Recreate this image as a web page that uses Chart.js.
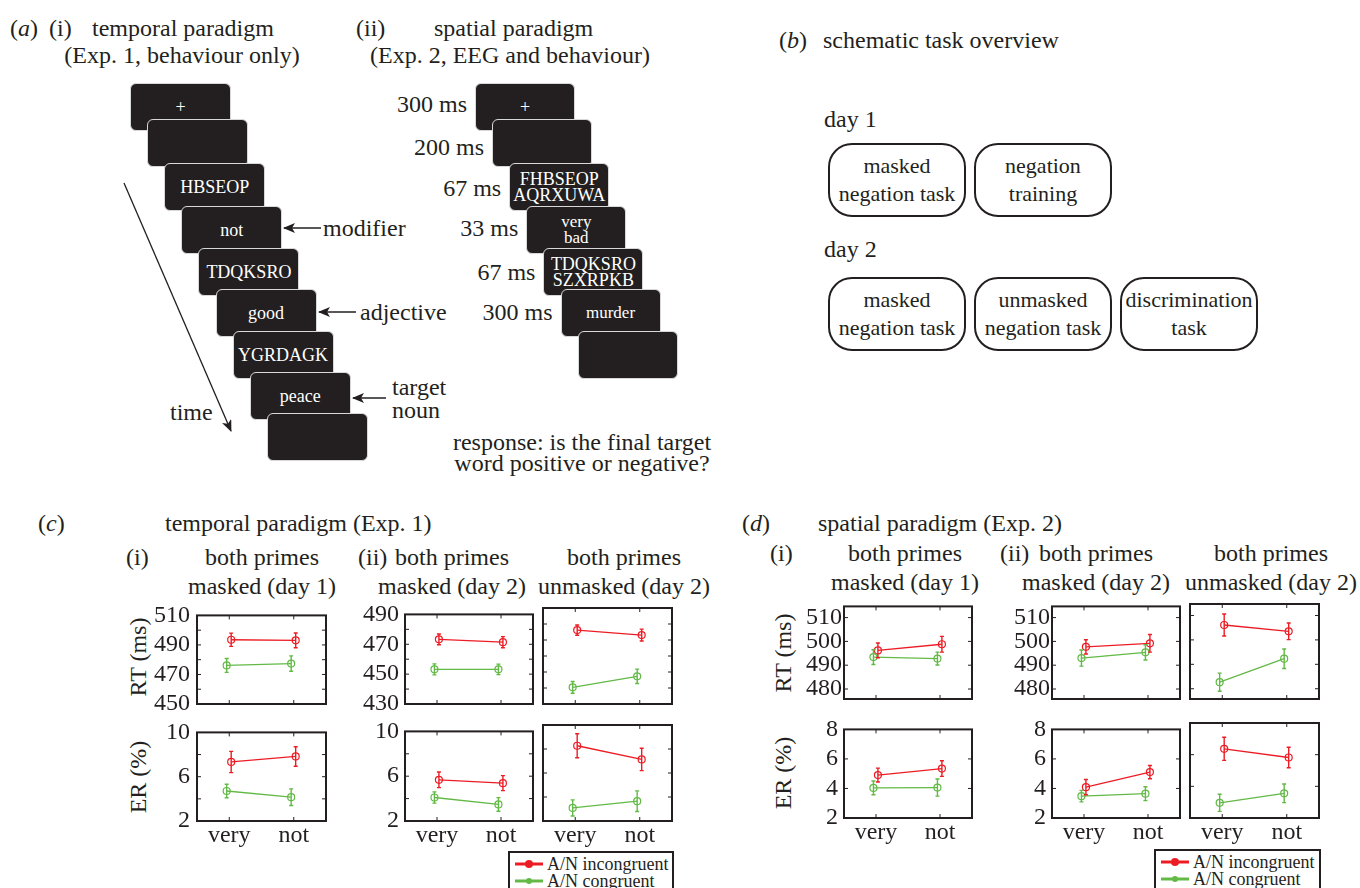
<!DOCTYPE html>
<html>
<head>
<meta charset="utf-8">
<title>negation priming</title>
<script src="https://cdn.jsdelivr.net/npm/chart.js@4.4.0/dist/chart.umd.min.js"></script>
<style>
html, body { margin: 0; padding: 0; background: #fff; }
#fig { position: relative; width: 1360px; height: 888px; overflow: hidden;
       font-family: 'Liberation Serif', 'Times New Roman', serif; color: #231f20; }
.t { position: absolute; white-space: nowrap; font-size: 24px; line-height: 1; }
.frame { position: absolute; background: #231f20; border: 1px solid #d8d8d8; border-radius: 6px;
         color: #fff; display: flex; align-items: center; justify-content: center; text-align: center;
         box-sizing: border-box; font-size: 18px; }
.task { position: absolute; border: 2.5px solid #231f20; border-radius: 24px; box-sizing: border-box;
        display: flex; align-items: center; justify-content: center; text-align: center;
        font-size: 22px; line-height: 28px; background: #fff; white-space: nowrap; }
.legend { position: absolute; border: 2px solid #231f20; background: #fff; box-sizing: border-box; }
canvas { position: absolute; }
</style>
</head>
<body>
<div id="fig"></div>
<script>
/* ---------------------------------------------------------------------------
                                   DATA
--------------------------------------------------------------------------- */
const conditions = ['very', 'not'];

// tick labels
const e1RtDay1Ticks = [450, 470, 490, 510];
const e1RtDay2Ticks = [430, 450, 470, 490];
const e1ErTicks = [2, 6, 10];
const e2RtTicks = [480, 490, 500, 510];
const e2ErTicks = [2, 4, 6, 8];

// (c) Exp. 1, temporal paradigm - RT (ms)
const e1RtD1Inc = [493.5, 493.1], e1RtD1IncErr = [4.5, 5.0];
const e1RtD1Con = [476.1, 477.4], e1RtD1ConErr = [4.7, 5.2];
const e1RtD2mInc = [473.3, 471.4], e1RtD2mIncErr = [3.6, 3.7];
const e1RtD2mCon = [453.2, 453.2], e1RtD2mConErr = [3.7, 3.5];
const e1RtD2uInc = [476.2, 473.1], e1RtD2uIncErr = [3.2, 3.7];
const e1RtD2uCon = [440.4, 447.3], e1RtD2uConErr = [3.7, 4.5];
// (c) Exp. 1 - ER (%)
const e1ErD1Inc = [7.33, 7.83], e1ErD1IncErr = [0.96, 0.88];
const e1ErD1Con = [4.71, 4.15], e1ErD1ConErr = [0.61, 0.75];
const e1ErD2mInc = [5.68, 5.38], e1ErD2mIncErr = [0.70, 0.67];
const e1ErD2mCon = [4.10, 3.48], e1ErD2mConErr = [0.50, 0.61];
const e1ErD2uInc = [8.27, 7.13], e1ErD2uIncErr = [1.00, 0.93];
const e1ErD2uCon = [3.09, 3.65], e1ErD2uConErr = [0.67, 0.86];

// (d) Exp. 2, spatial paradigm - RT (ms)
const e2RtD1Inc = [496.2, 498.8], e2RtD1IncErr = [3.1, 3.3];
const e2RtD1Con = [493.4, 492.8], e2RtD1ConErr = [3.1, 2.7];
const e2RtD2mInc = [497.7, 499.2], e2RtD2mIncErr = [3.0, 3.7];
const e2RtD2mCon = [493.0, 495.4], e2RtD2mConErr = [3.4, 3.2];
const e2RtD2uInc = [506.1, 503.5], e2RtD2uIncErr = [4.5, 3.4];
const e2RtD2uCon = [482.7, 492.3], e2RtD2uConErr = [3.7, 4.0];
// (d) Exp. 2 - ER (%)
const e2ErD1Inc = [4.91, 5.35], e2ErD1IncErr = [0.47, 0.53];
const e2ErD1Con = [4.04, 4.06], e2ErD1ConErr = [0.47, 0.58];
const e2ErD2mInc = [4.09, 5.11], e2ErD2mIncErr = [0.52, 0.45];
const e2ErD2mCon = [3.48, 3.65], e2ErD2mConErr = [0.39, 0.47];
const e2ErD2uInc = [6.37, 5.82], e2ErD2uIncErr = [0.73, 0.65];
const e2ErD2uCon = [2.96, 3.56], e2ErD2uConErr = [0.54, 0.59];

// schematic texts
const temporalFrames = ['+', '', 'HBSEOP', 'not', 'TDQKSRO', 'good', 'YGRDAGK', 'peace', ''];
const spatialFrames = ['+', '', 'FHBSEOP<br>AQRXUWA', 'very<br>bad', 'TDQKSRO<br>SZXRPKB', 'murder', ''];
const spatialDurations = ['300 ms', '200 ms', '67 ms', '33 ms', '67 ms', '300 ms'];

/* ---------------------------------------------------------------------------
                                   INIT
--------------------------------------------------------------------------- */
const fig = document.getElementById('fig');
const ink = '#231f20';
const red = '#ed1c24';
const green = '#62b946';

Chart.defaults.font.family = "'Liberation Serif', 'Times New Roman', serif";
Chart.defaults.font.size = 24;
Chart.defaults.color = ink;

function label(x, y, html, opt) {
    opt = opt || {};
    const d = document.createElement('div');
    d.className = 't';
    d.innerHTML = html;
    d.style.left = x + 'px';
    d.style.top = y + 'px';
    const ax = opt.align == 'center' ? '-50%' : (opt.align == 'right' ? '-100%' : '0');
    d.style.transform = 'translate(' + ax + ',-50%)' + (opt.rotate ? ' rotate(-90deg)' : '');
    if (opt.size) d.style.fontSize = opt.size + 'px';
    fig.appendChild(d);
    return d;
}

/* ---------------------------------------------------------------------------
                              (a) SCHEMATIC
--------------------------------------------------------------------------- */
label(10, 28, '(<i>a</i>)');
label(49, 28, '(i)');
label(92, 28, 'temporal paradigm');
label(182, 55, '(Exp. 1, behaviour only)', {align: 'center'});
label(356, 28, '(ii)');
label(434, 28, 'spatial paradigm');
label(510, 55, '(Exp. 2, EEG and behaviour)', {align: 'center'});

const frameTops = [83, 119, 163, 206, 248, 289, 331, 372, 413];
const durationYs = [104, 147, 188, 228, 272, 312];

temporalFrames.forEach(function(txt, i) {
    const d = document.createElement('div');
    d.className = 'frame';
    d.style.left = (130 + 17.1 * i) + 'px';
    d.style.top = frameTops[i] + 'px';
    d.style.width = '101px';
    d.style.height = '48px';
    d.innerHTML = txt;
    fig.appendChild(d);
});

spatialFrames.forEach(function(txt, i) {
    const d = document.createElement('div');
    d.className = 'frame';
    const x = 475 + 17.1 * i;
    d.style.left = x + 'px';
    d.style.top = frameTops[i] + 'px';
    d.style.width = '100px';
    d.style.height = '48px';
    d.style.lineHeight = '16px';
    d.style.fontSize = (i == 3 || i == 5) ? '17px' : '18px';
    d.innerHTML = txt;
    fig.appendChild(d);
    if (i < spatialDurations.length) {
        label(x - 8, durationYs[i], spatialDurations[i], {align: 'right'});
    }
});

label(323, 228, 'modifier');
label(360, 312, 'adjective');
label(392, 387, 'target');
label(392, 410, 'noun');
label(170, 412, 'time');
label(582, 442, 'response: is the final target', {align: 'center'});
label(582, 463, 'word positive or negative?', {align: 'center'});

const svgNS = 'http://www.w3.org/2000/svg';
const svg = document.createElementNS(svgNS, 'svg');
svg.setAttribute('width', 1360);
svg.setAttribute('height', 888);
svg.style.position = 'absolute';
svg.style.left = '0';
svg.style.top = '0';
svg.innerHTML =
    '<defs><marker id="ah" markerWidth="12" markerHeight="10" refX="11" refY="5" orient="auto" markerUnits="userSpaceOnUse">' +
    '<path d="M0,0 L12,5 L0,10 L3,5 z" fill="' + ink + '"/></marker></defs>' +
    '<line x1="124" y1="183" x2="231" y2="431" stroke="' + ink + '" stroke-width="1.3" marker-end="url(#ah)"/>' +
    '<line x1="321" y1="228" x2="284" y2="228" stroke="' + ink + '" stroke-width="1.5" marker-end="url(#ah)"/>' +
    '<line x1="356" y1="312" x2="319" y2="312" stroke="' + ink + '" stroke-width="1.5" marker-end="url(#ah)"/>' +
    '<line x1="386" y1="398" x2="353" y2="398" stroke="' + ink + '" stroke-width="1.5" marker-end="url(#ah)"/>';
fig.appendChild(svg);

/* ---------------------------------------------------------------------------
                              (b) TASK OVERVIEW
--------------------------------------------------------------------------- */
label(779, 40, '(<i>b</i>)');
label(823, 40, 'schematic task overview');
label(824, 119, 'day 1');
label(824, 249, 'day 2');

function task(x, y, html) {
    const d = document.createElement('div');
    d.className = 'task';
    d.style.left = x + 'px';
    d.style.top = y + 'px';
    d.style.width = '138px';
    d.style.height = '74px';
    d.innerHTML = html;
    fig.appendChild(d);
}
task(828, 143, 'masked<br>negation task');
task(974, 143, 'negation<br>training');
task(828, 277, 'masked<br>negation task');
task(974, 277, 'unmasked<br>negation task');
task(1120, 277, 'discrimination<br>task');

/* ---------------------------------------------------------------------------
                              (c) / (d) TITLES
--------------------------------------------------------------------------- */
label(38, 523, '(<i>c</i>)');
label(165, 523, 'temporal paradigm (Exp. 1)');
label(126, 557, '(i)');
label(262, 557, 'both primes', {align: 'center'});
label(262, 586, 'masked (day 1)', {align: 'center'});
label(358, 557, '(ii)');
label(452, 557, 'both primes', {align: 'center'});
label(452, 586, 'masked (day 2)', {align: 'center'});
label(624, 557, 'both primes', {align: 'center'});
label(624, 586, 'unmasked (day 2)', {align: 'center'});
label(138, 657, 'RT (ms)', {align: 'center', rotate: true});
label(138, 777, 'ER (%)', {align: 'center', rotate: true});

label(742, 523, '(<i>d</i>)');
label(818, 523, 'spatial paradigm (Exp. 2)');
label(770, 553, '(i)');
label(905, 553, 'both primes', {align: 'center'});
label(905, 582, 'masked (day 1)', {align: 'center'});
label(1000, 553, '(ii)');
label(1096, 553, 'both primes', {align: 'center'});
label(1096, 582, 'masked (day 2)', {align: 'center'});
label(1271, 553, 'both primes', {align: 'center'});
label(1271, 582, 'unmasked (day 2)', {align: 'center'});
label(783, 653, 'RT (ms)', {align: 'center', rotate: true});
label(783, 773, 'ER (%)', {align: 'center', rotate: true});

/* ---------------------------------------------------------------------------
                                  PLUGINS
--------------------------------------------------------------------------- */
const framePlugin = {
    id: 'frame',
    afterDraw: function(chart, args, opts) {
        const ctx = chart.ctx, a = chart.chartArea;
        const x = chart.scales.x, y = chart.scales.y;
        ctx.save();
        ctx.strokeStyle = ink;
        ctx.lineWidth = 1;
        ctx.beginPath();
        for (let v = Math.ceil(y.min / opts.step) * opts.step; v <= y.max; v += opts.step) {
            const py = y.getPixelForValue(v);
            if (py < a.top + 2 || py > a.bottom - 2) continue;
            ctx.moveTo(a.left, py); ctx.lineTo(a.left + 4, py);
            ctx.moveTo(a.right - 4, py); ctx.lineTo(a.right, py);
        }
        [1, 2].forEach(function(v) {
            const px = x.getPixelForValue(v);
            ctx.moveTo(px, a.top); ctx.lineTo(px, a.top + 4);
            ctx.moveTo(px, a.bottom - 4); ctx.lineTo(px, a.bottom);
        });
        ctx.stroke();
        ctx.lineWidth = 2;
        ctx.strokeRect(a.left, a.top, a.right - a.left, a.bottom - a.top);
        ctx.restore();
    }
};

const errorBarPlugin = {
    id: 'errorBars',
    afterDatasetsDraw: function(chart) {
        const ctx = chart.ctx, x = chart.scales.x, y = chart.scales.y;
        chart.data.datasets.forEach(function(ds) {
            ctx.save();
            ctx.strokeStyle = ds.borderColor;
            ctx.lineWidth = 1.4;
            ctx.beginPath();
            ds.data.forEach(function(p, i) {
                const px = x.getPixelForValue(p.x);
                const top = y.getPixelForValue(p.y + ds.errors[i]);
                const bot = y.getPixelForValue(p.y - ds.errors[i]);
                ctx.moveTo(px, top); ctx.lineTo(px, bot);
                ctx.moveTo(px - 2, top); ctx.lineTo(px + 2, top);
                ctx.moveTo(px - 2, bot); ctx.lineTo(px + 2, bot);
            });
            ctx.stroke();
            ctx.restore();
        });
    }
};

/* ---------------------------------------------------------------------------
                                  CHARTS
--------------------------------------------------------------------------- */
function series(values, errs, color, shift) {
    return {
        data: values.map(function(v, i) { return {x: i + 1 + shift, y: v}; }),
        errors: errs,
        borderColor: color,
        backgroundColor: color,
        borderWidth: 1.3,
        pointRadius: 3.5,
        pointBorderWidth: 1.2,
        pointBorderColor: color,
        pointBackgroundColor: 'rgba(255,255,255,0)',
        tension: 0,
        fill: false
    };
}

function makeChart(p) {
    const padL = 60, padT = 14, padR = 8, padB = 40;
    const W = p.box[2] + padL + padR, H = p.box[3] + padT + padB;
    const cv = document.createElement('canvas');
    cv.width = W; cv.height = H;
    cv.style.left = (p.box[0] - padL) + 'px';
    cv.style.top = (p.box[1] - padT) + 'px';
    cv.style.width = W + 'px';
    cv.style.height = H + 'px';
    fig.appendChild(cv);
    new Chart(cv, {
        type: 'line',
        data: {
            datasets: [
                series(p.con, p.conErr, green, -0.04),
                series(p.inc, p.incErr, red, 0.03)
            ]
        },
        options: {
            responsive: false,
            animation: false,
            events: [],
            layout: {padding: {top: padT, right: padR, left: 0, bottom: 0}, autoPadding: false},
            plugins: {
                legend: {display: false},
                tooltip: {enabled: false},
                frame: {step: p.step}
            },
            scales: {
                x: {
                    type: 'linear', min: 0.5, max: 2.5,
                    grid: {display: false, drawTicks: false},
                    border: {display: false},
                    afterBuildTicks: function(s) { s.ticks = [{value: 1}, {value: 2}]; },
                    afterFit: function(s) { s.height = padB; },
                    ticks: {display: !!p.showX, padding: 0, maxRotation: 0, autoSkip: false,
                            callback: function(v) { return conditions[v - 1]; }}
                },
                y: {
                    min: p.range[0], max: p.range[1],
                    grid: {display: false, drawTicks: false},
                    border: {display: false},
                    afterBuildTicks: function(s) { s.ticks = p.ticks.map(function(v) { return {value: v}; }); },
                    afterFit: function(s) { s.width = padL; },
                    ticks: {display: !!p.showY, padding: p.yPad, autoSkip: false}
                }
            }
        },
        plugins: [errorBarPlugin, framePlugin]
    });
}

const rowC1 = 608, rowC2 = 725, hC = 96;
const rowD1 = 604, rowD2 = 723, hD = 95;

// (c) temporal paradigm
makeChart({box: [197, rowC1, 129, hC], range: [450, 510], ticks: e1RtDay1Ticks, step: 10, showY: true, yPad: 7,
           inc: e1RtD1Inc, incErr: e1RtD1IncErr, con: e1RtD1Con, conErr: e1RtD1ConErr});
makeChart({box: [405, rowC1, 128, hC], range: [430, 490], ticks: e1RtDay2Ticks, step: 10, showY: true, yPad: 6,
           inc: e1RtD2mInc, incErr: e1RtD2mIncErr, con: e1RtD2mCon, conErr: e1RtD2mConErr});
makeChart({box: [543, rowC1, 129, hC], range: [430, 490], ticks: e1RtDay2Ticks, step: 10, showY: false, yPad: 6,
           inc: e1RtD2uInc, incErr: e1RtD2uIncErr, con: e1RtD2uCon, conErr: e1RtD2uConErr});
makeChart({box: [197, rowC2, 129, hC], range: [2, 10], ticks: e1ErTicks, step: 2, showY: true, showX: true, yPad: 7,
           inc: e1ErD1Inc, incErr: e1ErD1IncErr, con: e1ErD1Con, conErr: e1ErD1ConErr});
makeChart({box: [405, rowC2, 128, hC], range: [2, 10], ticks: e1ErTicks, step: 2, showY: true, showX: true, yPad: 6,
           inc: e1ErD2mInc, incErr: e1ErD2mIncErr, con: e1ErD2mCon, conErr: e1ErD2mConErr});
makeChart({box: [543, rowC2, 129, hC], range: [2, 10], ticks: e1ErTicks, step: 2, showY: false, showX: true, yPad: 6,
           inc: e1ErD2uInc, incErr: e1ErD2uIncErr, con: e1ErD2uCon, conErr: e1ErD2uConErr});

// (d) spatial paradigm
makeChart({box: [844, rowD1, 128, hD], range: [475.8, 514.7], ticks: e2RtTicks, step: 10, showY: true, yPad: 2,
           inc: e2RtD1Inc, incErr: e2RtD1IncErr, con: e2RtD1Con, conErr: e2RtD1ConErr});
makeChart({box: [1052, rowD1, 128, hD], range: [475.8, 514.7], ticks: e2RtTicks, step: 10, showY: true, yPad: 2,
           inc: e2RtD2mInc, incErr: e2RtD2mIncErr, con: e2RtD2mCon, conErr: e2RtD2mConErr});
makeChart({box: [1190, rowD1, 129, hD], range: [475.8, 514.7], ticks: e2RtTicks, step: 10, showY: false, yPad: 2,
           inc: e2RtD2uInc, incErr: e2RtD2uIncErr, con: e2RtD2uCon, conErr: e2RtD2uConErr});
makeChart({box: [844, rowD2, 128, hD], range: [2, 8], ticks: e2ErTicks, step: 2, showY: true, showX: true, yPad: 6,
           inc: e2ErD1Inc, incErr: e2ErD1IncErr, con: e2ErD1Con, conErr: e2ErD1ConErr});
makeChart({box: [1052, rowD2, 128, hD], range: [2, 8], ticks: e2ErTicks, step: 2, showY: true, showX: true, yPad: 6,
           inc: e2ErD2mInc, incErr: e2ErD2mIncErr, con: e2ErD2mCon, conErr: e2ErD2mConErr});
makeChart({box: [1190, rowD2, 129, hD], range: [2, 8], ticks: e2ErTicks, step: 2, showY: false, showX: true, yPad: 6,
           inc: e2ErD2uInc, incErr: e2ErD2uIncErr, con: e2ErD2uCon, conErr: e2ErD2uConErr});

/* ---------------------------------------------------------------------------
                                  LEGENDS
--------------------------------------------------------------------------- */
function legend(x, y, w) {
    const d = document.createElement('div');
    d.className = 'legend';
    d.style.left = x + 'px';
    d.style.top = y + 'px';
    d.style.width = w + 'px';
    d.style.height = '60px';
    d.innerHTML =
        '<svg width="40" height="60" style="position:absolute;left:0;top:0">' +
        '<line x1="5" y1="11" x2="33" y2="11" stroke="' + red + '" stroke-width="3"/>' +
        '<circle cx="19" cy="11" r="4" fill="' + red + '"/>' +
        '<line x1="5" y1="28" x2="33" y2="28" stroke="' + green + '" stroke-width="3"/>' +
        '<circle cx="19" cy="28" r="3" fill="' + green + '"/></svg>' +
        '<div class="t" style="left:37px;top:11px;font-size:18px;transform:translate(0,-50%)">A/N incongruent</div>' +
        '<div class="t" style="left:37px;top:28px;font-size:18px;transform:translate(0,-50%)">A/N congruent</div>';
    fig.appendChild(d);
}
legend(508, 851, 166);
legend(1154, 849, 167);
</script>
</body>
</html>
